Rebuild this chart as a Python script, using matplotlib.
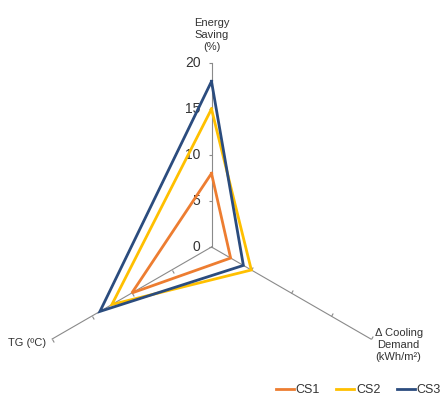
import numpy as np
import matplotlib
matplotlib.use("Agg")
import matplotlib.pyplot as plt
from matplotlib import font_manager
from matplotlib.markers import MarkerStyle
from matplotlib.path import Path
from matplotlib.transforms import Affine2D

# ---- data ----
axes_labels = ["Energy\nSaving\n(%)", "\u0394 Cooling\nDemand\n(kWh/m\u00b2)", "TG (\u00baC)"]
series_names = ["CS1", "CS2", "CS3"]
cs1 = [8, 2.4, 10]
cs2 = [15, 5, 12.5]
cs3 = [18, 4, 14]
r_ticks = [0, 5, 10, 15, 20]
r_tick_labels = ["0", "5", "10", "15", "20"]
colors = ["#ED7D31", "#FFC000", "#2B4C7E"]

names = {f.name for f in font_manager.fontManager.ttflist}
fam = "Liberation Sans Narrow" if "Liberation Sans Narrow" in names else "Liberation Sans"
plt.rcParams["font.family"] = [fam, "DejaVu Sans"]

W, H = 442, 398
fig = plt.figure(figsize=(W / 100, H / 100), dpi=100)
cx, cy, R = 211.5, 398 - 247, 184
ax = fig.add_axes([(cx - R) / W, (cy - R) / H, 2 * R / W, 2 * R / H], projection="polar")
ax.set_theta_offset(np.pi / 2)
ax.set_theta_direction(-1)
ax.set_ylim(0, 20)
ax.grid(False)
ax.set_xticks([])
ax.set_yticks([])
ax.spines["polar"].set_visible(False)
ax.patch.set_alpha(0)

n = len(axes_labels)
thetas = np.arange(n) * 2 * np.pi / n

# spokes and ticks
tick_path = Path([(0, 0), (1, 0)])
for i, th in enumerate(thetas):
    ax.plot([th, th], [0, 20], color="#8a8a8a", lw=0.8, zorder=1, clip_on=False)
    screen_ang = 90 - np.degrees(th)
    mk = MarkerStyle(tick_path, transform=Affine2D().rotate_deg(screen_ang + 90))
    rs = r_ticks if i == 0 else r_ticks[1:]
    ax.plot([th] * len(rs), rs, linestyle="none", marker=mk, markersize=5,
            markeredgecolor="#8a8a8a", markeredgewidth=0.8, zorder=1, clip_on=False)

# tick labels on the top spoke
for r, lab in zip(r_ticks, r_tick_labels):
    ax.annotate(lab, xy=(0, r), xytext=(-8, 0), textcoords="offset points",
                ha="right", va="center", fontsize=10, color="#333333")

# axis labels
ax.annotate(axes_labels[0], xy=(thetas[0], 20), xytext=(0, 8), textcoords="offset points",
            ha="center", va="bottom", fontsize=8, color="#333333", linespacing=1.25,
            annotation_clip=False)
ax.annotate(axes_labels[1], xy=(thetas[1], 20), xytext=(20, -4), textcoords="offset points",
            ha="center", va="center", fontsize=8, color="#333333", linespacing=1.25,
            annotation_clip=False)
ax.annotate(axes_labels[2], xy=(thetas[2], 20), xytext=(-4, -3), textcoords="offset points",
            ha="right", va="center", fontsize=8, color="#333333", annotation_clip=False)

# series
handles = []
for vals, c, name in zip([cs1, cs2, cs3], colors, series_names):
    t = np.append(thetas, thetas[0])
    v = np.append(vals, vals[0])
    h, = ax.plot(t, v, color=c, lw=2.0, label=name, zorder=3, clip_on=False,
                 solid_joinstyle="miter")
    handles.append(h)

leg = fig.legend(handles=handles, loc="center right", bbox_to_anchor=(441 / W, 1 - 390 / H),
                 ncol=3, frameon=False, fontsize=9, handlelength=1.45, handletextpad=0.15,
                 columnspacing=1.3, borderaxespad=0, borderpad=0)
for t in leg.get_texts():
    t.set_color("#333333")

fig.savefig("out.png", dpi=100)
